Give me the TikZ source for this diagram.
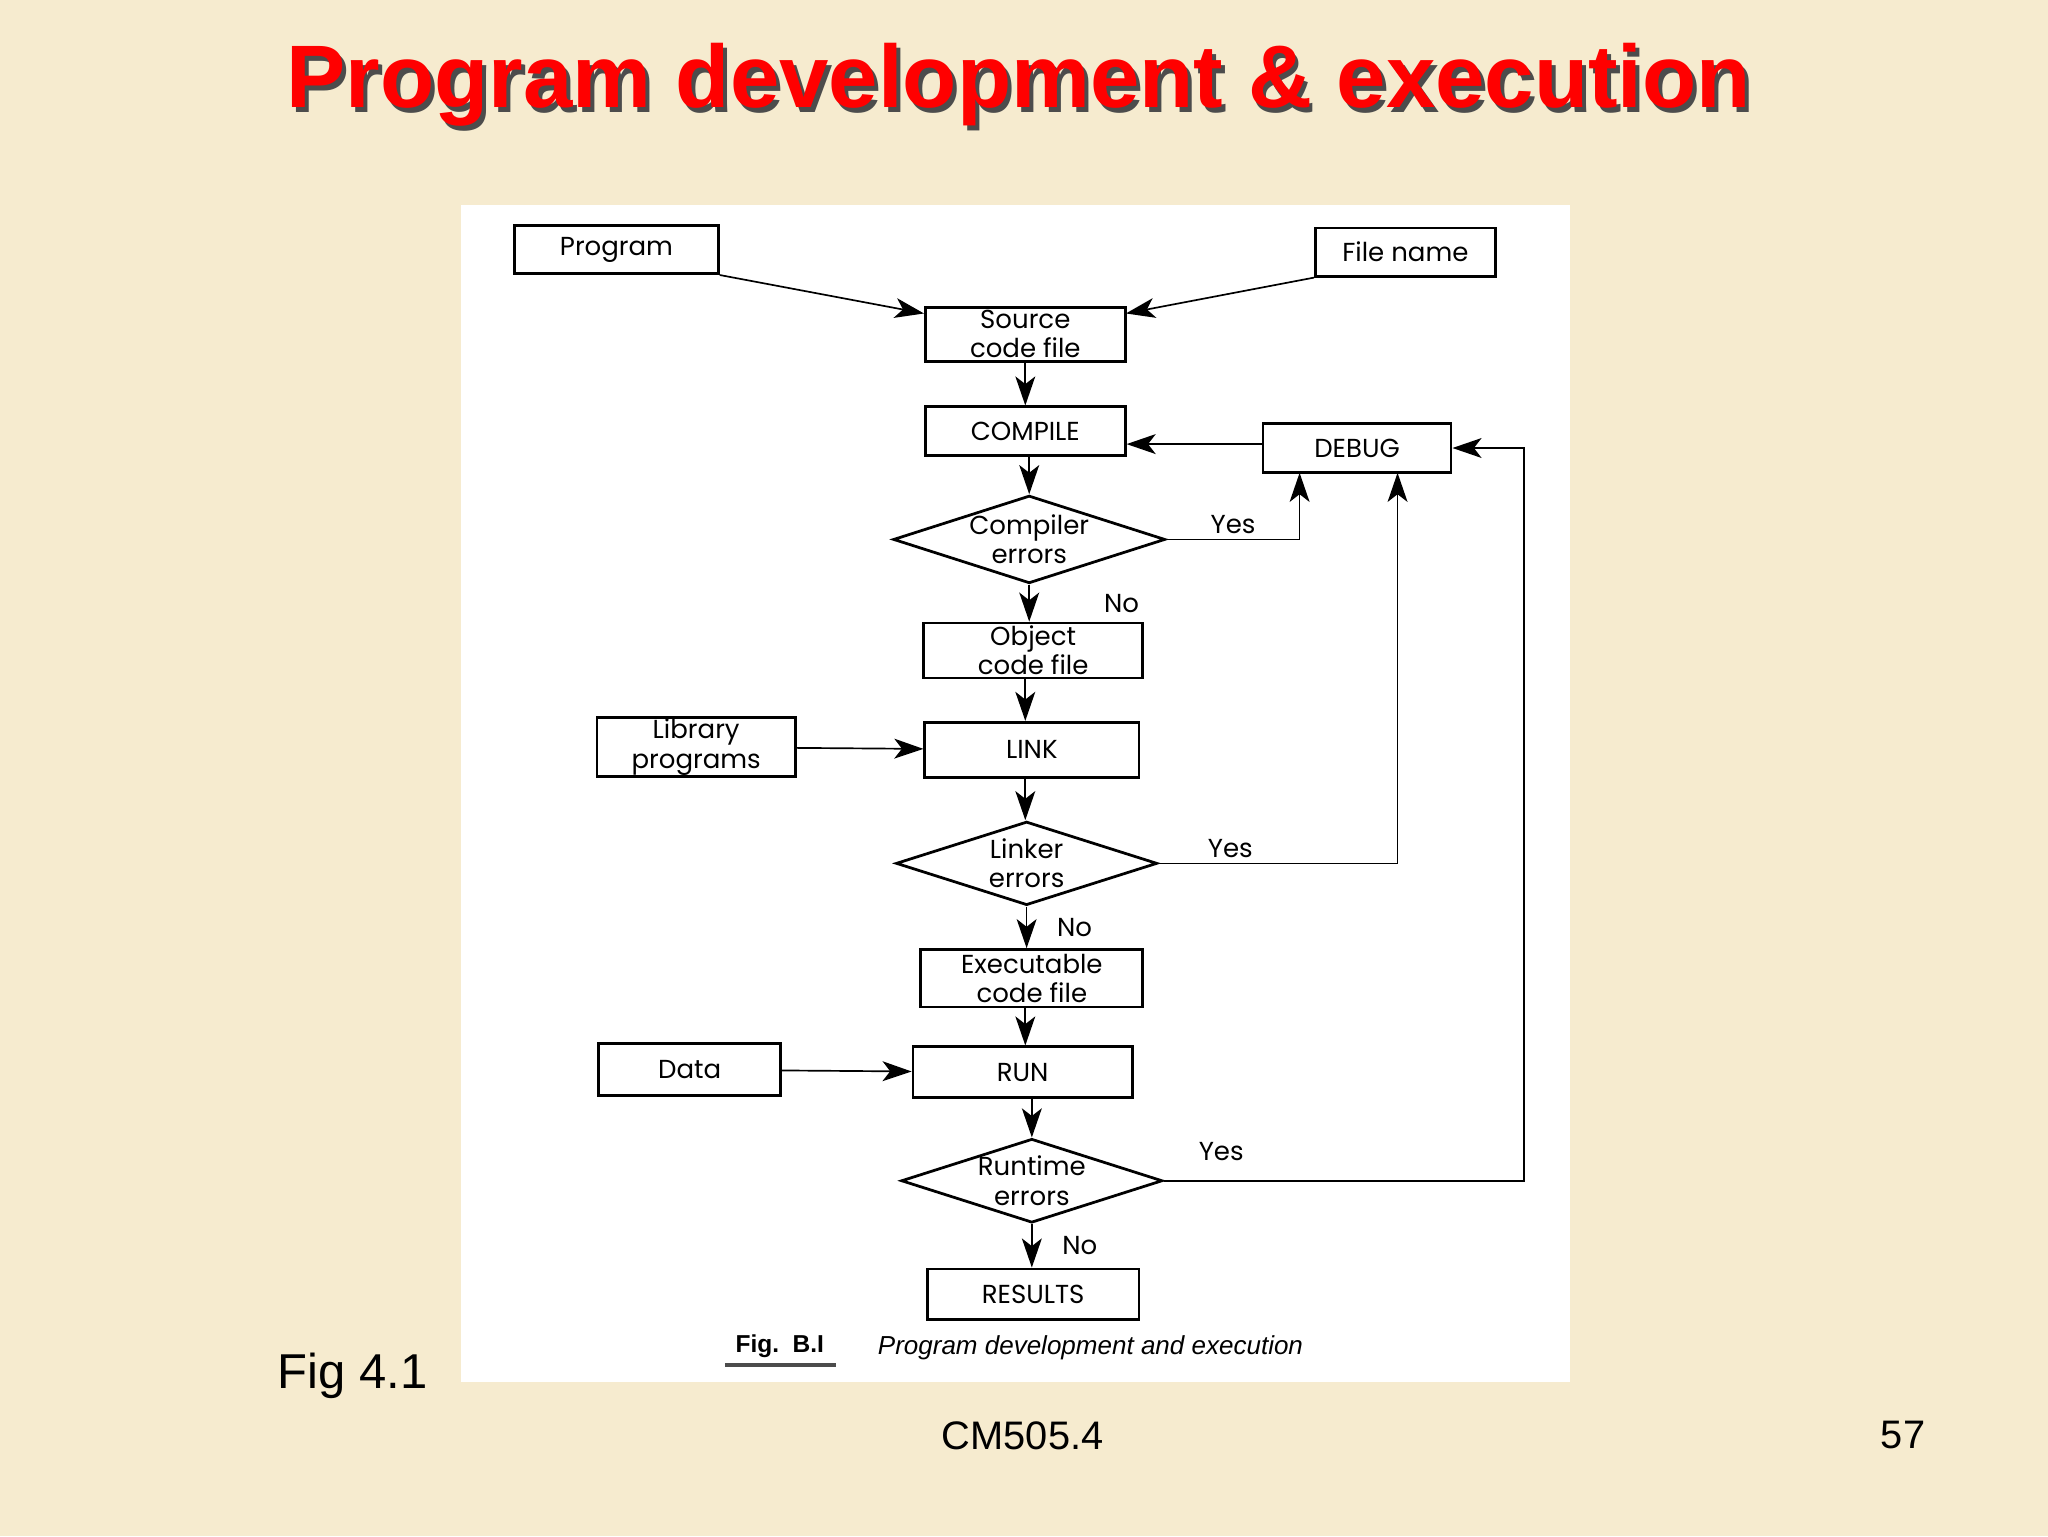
\documentclass[tikz,border=0pt]{standalone}
\usepackage{fontspec}
\setmainfont{Liberation Sans}
\newfontfamily\boxfont{Poppins}
\usetikzlibrary{shapes.geometric,arrows.meta}
\definecolor{bg}{HTML}{F6EBCF}
\begin{document}
\begin{tikzpicture}[x=0.3mm,y=-0.3mm,
  bx/.style={draw,line width=1.8pt,inner sep=0pt,font=\boxfont\fontsize{17}{19}\selectfont,align=center},
  dm/.style={draw,diamond,aspect=3.1,line width=1.8pt,inner sep=0pt,font=\boxfont\fontsize{17}{19}\selectfont,align=center},
  ar/.style={line width=1.1pt,-{Stealth[length=19pt,width=13pt,inset=5pt]}},
  lb/.style={font=\boxfont\fontsize{17}{19}\selectfont}]
\fill[bg] (0,0) rectangle (1568,1176);
\useasboundingbox (0,0) rectangle (1568,1176);
\fill[white] (353,157) rectangle (1202,1058);
\node[text=black!70,font=\bfseries\fontsize{58}{70}\selectfont] at (783,69) {Program development \& execution};
\node[text=red,font=\bfseries\fontsize{58}{70}\selectfont] (title) at (780,65) {Program development \& execution};
\newcommand\bxat[6]{\node[bx,minimum width=#4*0.3mm,minimum height=#5*0.3mm] (#1) at (#2,#3) {#6};}
\bxat{prog}{472}{191}{156}{37}{Program}
\bxat{fname}{1076}{193}{138}{37}{File name}
\bxat{src}{785}{256}{153}{41}{Source\\code file}
\bxat{comp}{785}{330}{153}{37}{COMPILE}
\bxat{debug}{1039}{343}{144}{37}{DEBUG}
\node[dm,minimum width=202*0.3mm,minimum height=64*0.3mm] (ce) at (788,413) {Compiler\\errors};
\bxat{obj}{791}{498}{168}{42}{Object\\code file}
\bxat{lib}{533}{572}{152}{45}{Library\\programs}
\bxat{link}{790}{574}{164}{42}{LINK}
\node[dm,minimum width=200*0.3mm,minimum height=64*0.3mm] (le) at (786,661) {Linker\\errors};
\bxat{exe}{790}{749}{170}{44}{Executable\\code file}
\bxat{data}{528}{819}{139}{40}{Data}
\bxat{run}{783}{821}{168}{39}{RUN}
\node[dm,minimum width=200*0.3mm,minimum height=64*0.3mm] (re) at (790,904) {Runtime\\errors};
\bxat{res}{791}{991}{162}{39}{RESULTS}
\draw[ar] (prog.south east) -- (src.north west|-0,240);
\draw[ar] (fname.south west) -- (862,240);
\draw[ar] (src) -- (comp);
\draw[ar] (comp.south-|ce.north) -- (ce.north);
\draw[ar] (debug.west|-0,340) -- (comp.east|-0,340);
\draw[ar] (ce.east) -| (995,362) node[pos=0.25,above,lb] {Yes};
\draw[ar] (ce.south) -- (obj.north-|ce.south) node[pos=0.5,right=45pt,lb] {No};
\draw[ar] (obj.south-|785,0) -- (link.north-|785,0);
\draw[ar] (lib) -- (link);
\draw[ar] (link.south-|785,0) -- (le.north-|785,0);
\draw[ar] (le.east) -| (1070,362) node[pos=0.15,above,lb] {Yes};
\draw[ar] (le.south) -- (exe.north-|le.south) node[midway,right=16pt,lb] {No};
\draw[ar] (exe.south-|785,0) -- (run.north-|785,0);
\draw[ar] (data) -- (run);
\draw[ar] (run.south-|790,0) -- (re.north);
\draw[ar] (re.east) -- (1167,904) |- (debug.east);
\node[lb] at (935,882) {Yes};
\draw[ar] (re.south) -- (res.north-|re.south) node[midway,right=16pt,lb] {No};
\node[font=\bfseries\fontsize{16}{18}\selectfont] (fig) at (597,1031) {Fig.\ \ B.I};
\draw[line width=2.5pt,black!70] (555,1045) -- (640,1045);
\node[font=\itshape\fontsize{17}{19}\selectfont,anchor=west] (cap) at (668,1032) {Program development and execution};
\node[font=\fontsize{32}{36}\selectfont] (f41) at (270,1053) {Fig 4.1};
\node[font=\fontsize{26}{30}\selectfont] (cm) at (783,1099) {CM505.4};
\node[font=\fontsize{26}{30}\selectfont] (pg) at (1457,1099) {57};
\end{tikzpicture}
\end{document}
